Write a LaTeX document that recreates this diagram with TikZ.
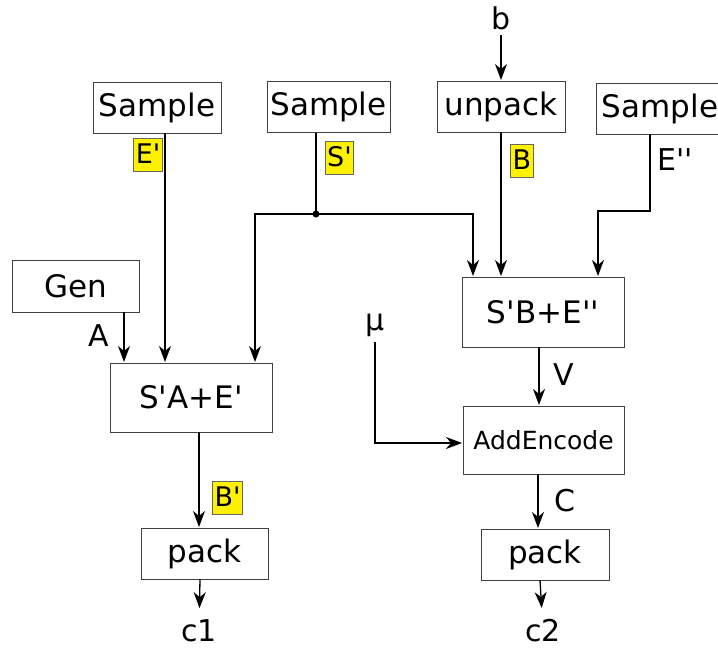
\documentclass[tikz,border=0pt]{standalone}
\usepackage{fontspec}
\setmainfont{DejaVu Sans}[Ligatures=TeXOff]
\usetikzlibrary{arrows.meta}

\begin{document}
\begin{tikzpicture}[x=1pt,y=-1pt,>={Stealth[length=16pt,width=12pt,inset=5pt]},shorten >=1pt,line width=1.3pt,
    block/.style={draw=black!75,line width=1pt,outer sep=0pt,minimum height=51pt,inner sep=0pt,font=\fontsize{31}{37}\selectfont},
    tag/.style={fill=yellow,draw=black!60,line width=0.6pt,inner xsep=2pt,inner ysep=1pt,text height=24pt,text depth=7pt,font=\fontsize{27}{32}\selectfont},
    lbl/.style={inner sep=0pt,font=\fontsize{30}{36}\selectfont},
    io/.style={inner sep=5pt,font=\fontsize{30}{36}\selectfont}]
    \useasboundingbox (0,0) rectangle (718,648);
    \clip (0,0) rectangle (718,648);

    \node[block,minimum width=128pt] (1) at (157,107.5) {Sample};
    \node[block,minimum width=123pt] (2) at (328.5,107) {Sample};
    \node[block,minimum width=128pt] (3) at (501,106.5) {unpack};
    \node[block,minimum width=128pt] (4) at (660,108.5) {Sample};
    \node[io] (5) at (501,18) {b};

    \node[block,minimum width=127pt,minimum height=52pt] (6) at (75.5,286) {Gen};
    \node[block,minimum width=162pt,minimum height=69pt] (7) at (191,397.5) {S'A+E'};
    \node[block,minimum width=162pt,minimum height=70pt] (8) at (543,312) {S'B+E''};
    \node[block,minimum width=161pt,minimum height=68pt,font=\fontsize{25}{30}\selectfont] (9) at (543.5,440) {AddEncode};
    \node[io] (14) at (375,325) {μ};

    \node[block,minimum width=127pt] (10) at (204.5,553.5) {pack};
    \node[block,minimum width=128pt] (11) at (545,554.5) {pack};
    \node[io,inner sep=10pt] (12) at (199,631) {c1};
    \node[io,inner sep=10pt] (13) at (543,631) {c2};

    \node[tag] (15) at (148,154.5) {E'};
    \node[tag] (16) at (339.5,157.5) {S'};
    \node[tag] (17) at (522,160.5) {B};
    \node[tag] (18) at (227.5,498) {B'};
    \node[lbl] (19) at (675,160) {E''};
    \node[lbl] (20) at (99,336) {A};
    \node[lbl] (21) at (564,375) {V};
    \node[lbl] (22) at (565,501) {C};

    \coordinate (j) at (316,214);
    \coordinate (k) at (650,211);

    \path[->]
        (5) edge (3)
        ([xshift=8pt]1.south) edge ([xshift=55pt]7.north west)
        ([xshift=48.5pt]6.south) edge ([xshift=14pt]7.north west)
        (3.south) edge (3.south |- 8.north)
        ([xshift=-4pt]8.south) edge ([xshift=-4.5pt]9.north)
        ([xshift=8pt]7.south) edge ([xshift=-5.5pt]10.north)
        ([xshift=-4.5pt]10.south) edge (12)
        ([xshift=-5.5pt]9.south) edge ([xshift=-7pt]11.north)
        ([xshift=-5pt]11.south) edge (13)
        ;
    \draw ([xshift=-12.5pt]2.south) -- (j);
    \fill (j) circle (3.5pt);
    \draw[->] (j) -| ([xshift=145pt]7.north west);
    \draw[->] (j) -| ([xshift=11pt]8.north west);
    \draw[->] ([xshift=-10pt]4.south) -- (k) -| ([xshift=136pt]8.north west);
    \draw[->] (14.south) |- ([yshift=-3pt]9.west);
\end{tikzpicture}
\end{document}
